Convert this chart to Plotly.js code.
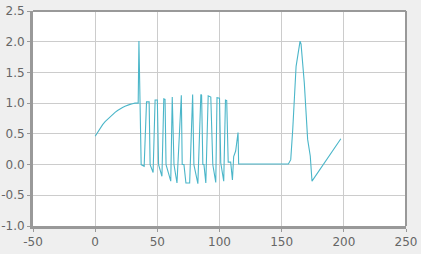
<!DOCTYPE html>
<html>
<head>
<meta charset="utf-8">
<script src="https://cdn.plot.ly/plotly-3.0.1.min.js"></script>
<style>
html,body{margin:0;padding:0;background:#efefef;}
#chart{width:421px;height:254px;}
</style>
</head>
<body>
<div id="chart"></div>
<script>
// Series values
const xValues = [0, 2, 4, 6, 8, 10, 12, 14, 16, 18, 20, 22, 24, 26, 28, 30, 32, 34.6,
  35.2, 37, 39.4, 41.3, 43.4, 44.2, 46.6, 48.2, 50, 51, 53.7, 55.2, 56.2, 57, 60.8,
  62, 63.4, 65.8, 69.3, 70, 71.4, 73, 76, 78.4, 79.4, 82.6, 85, 85.6, 86.6, 87.5, 89,
  90.9, 93, 94.6, 97, 98, 100, 101, 103.4, 104.8, 105.8, 107, 109, 110.4, 111.4, 113,
  114.9, 115.4, 120, 122, 126, 128, 132, 134, 138, 140, 144, 146, 150, 155.4, 157.3,
  158.9, 161.6, 164.8, 165.6, 168.2, 170.9, 173, 174.4, 197.6];
const yValues = [0.46, 0.53, 0.59, 0.65, 0.70, 0.74, 0.78, 0.82, 0.85, 0.88, 0.91, 0.93, 0.95, 0.97, 0.98, 0.99, 1.0, 1.0,
  2.01, 0.0, -0.03, 1.02, 1.02, 0.0, -0.13, 1.05, 1.05, 0.0, -0.19, 1.07, 1.06, 0.0, -0.27,
  1.10, 0.0, -0.30, 1.13, 0.0, 0.0, -0.30, -0.30, 1.14, 0.0, -0.31, 1.14, 1.13, 0.0, 0.0, -0.30,
  1.12, 1.10, 0.0, -0.29, 1.09, 1.08, 0.03, -0.27, 1.05, 1.04, 0.04, 0.04, -0.25, 0.13, 0.22,
  0.52, 0.01, 0.01, 0.02, 0.01, 0.02, 0.01, 0.02, 0.01, 0.02, 0.01, 0.02, 0.01, 0.01, 0.08,
  0.57, 1.60, 2.01, 1.96, 1.33, 0.41, 0.14, -0.27, 0.42];
const xTicks = [-50, 0, 50, 100, 150, 200, 250];
const yTicks = [-1.0, -0.5, 0.0, 0.5, 1.0, 1.5, 2.0, 2.5];

const trace = {
  x: xValues, y: yValues, type: 'scatter', mode: 'lines',
  line: {color: '#4bb6c9', width: 1.1, shape: 'linear'},
  hoverinfo: 'skip'
};

const layout = {
  width: 421, height: 254,
  margin: {l: 33, r: 15, t: 11, b: 28, pad: 0},
  paper_bgcolor: '#efefef',
  plot_bgcolor: '#ffffff',
  showlegend: false,
  font: {family: 'DejaVu Sans, sans-serif', size: 11, color: '#666666'},
  xaxis: {
    range: [-50, 250], tickvals: xTicks, ticktext: xTicks.map(String),
    showgrid: true, gridcolor: '#cccccc', gridwidth: 1, zeroline: false,
    showline: true, linecolor: '#999999', linewidth: 3,
    ticks: 'outside', ticklen: 3, tickcolor: '#999999', tickwidth: 1,
    tickfont: {family: 'DejaVu Sans, sans-serif', size: 12, color: '#666666'},
    fixedrange: true
  },
  yaxis: {
    range: [-1, 2.5], tickvals: yTicks, ticktext: yTicks.map(v => v.toFixed(1)),
    showgrid: true, gridcolor: '#cccccc', gridwidth: 1, zeroline: false,
    showline: true, linecolor: '#999999', linewidth: 3,
    ticks: 'outside', ticklen: 3, tickcolor: '#999999', tickwidth: 1,
    tickfont: {family: 'DejaVu Sans, sans-serif', size: 12, color: '#666666'},
    fixedrange: true
  },
  shapes: [
    {type: 'line', xref: 'paper', yref: 'paper', x0: 0, x1: 1, y0: 1, y1: 1,
     line: {color: '#999999', width: 2}},
    {type: 'line', xref: 'paper', yref: 'paper', x0: 1, x1: 1, y0: 0, y1: 1,
     line: {color: '#999999', width: 2}}
  ]
};

Plotly.newPlot('chart', [trace], layout, {displayModeBar: false, staticPlot: true});
</script>
</body>
</html>
